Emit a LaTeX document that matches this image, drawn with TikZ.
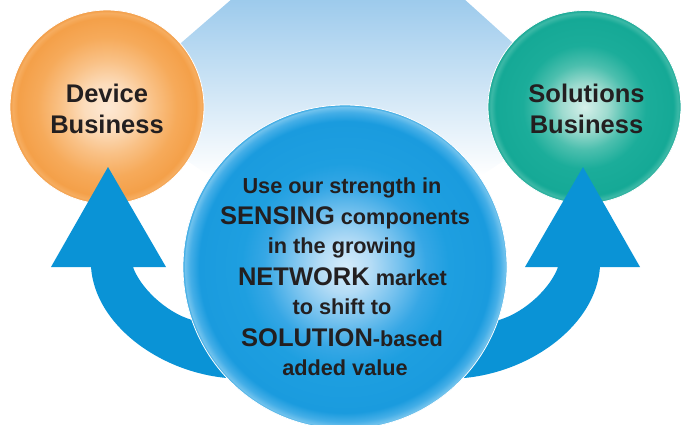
\documentclass[tikz,border=0pt]{standalone}
\usepackage{fontspec}
\setmainfont{Liberation Sans}
\definecolor{bgblue}{HTML}{9CCAEC}
\definecolor{arrowblue}{HTML}{0A93D6}
\definecolor{ink}{HTML}{231F20}
% orange ball
\definecolor{orA}{HTML}{FDE9D5}
\definecolor{orB}{HTML}{FCDCBB}
\definecolor{orC}{HTML}{F9C186}
\definecolor{orD}{HTML}{F6AA5A}
\definecolor{orE}{HTML}{F4A049}
\definecolor{orF}{HTML}{F6AD60}
\definecolor{orG}{HTML}{F29C45}
% teal ball
\definecolor{tlA}{HTML}{D6F0EA}
\definecolor{tlB}{HTML}{9EDBCF}
\definecolor{tlC}{HTML}{4CBFAE}
\definecolor{tlD}{HTML}{1BAD9A}
\definecolor{tlE}{HTML}{15A996}
\definecolor{tlF}{HTML}{3DB9A7}
\definecolor{tlG}{HTML}{16A794}
% blue ball
\definecolor{blA}{HTML}{D6ECFA}
\definecolor{blB}{HTML}{B4DCF6}
\definecolor{blC}{HTML}{74C1EE}
\definecolor{blD}{HTML}{36A7E5}
\definecolor{blE}{HTML}{1E9FE0}
\definecolor{blF}{HTML}{1A9BDE}
\definecolor{blG}{HTML}{44AEE7}
\definecolor{blH}{HTML}{70C2ED}
\definecolor{blI}{HTML}{33A6E2}
% radial shadings: the circle's rim sits at 25bp
\pgfdeclareradialshading{orangeball}{\pgfpoint{0bp}{0bp}}{color(0bp)=(orA); color(6bp)=(orB); color(12bp)=(orC); color(18bp)=(orD); color(23bp)=(orE); color(24.3bp)=(orF); color(25bp)=(orG); color(50bp)=(orG)}
\pgfdeclareradialshading{tealball}{\pgfpoint{0bp}{0bp}}{color(0bp)=(tlA); color(6bp)=(tlB); color(11bp)=(tlC); color(16bp)=(tlD); color(23bp)=(tlE); color(24.3bp)=(tlF); color(25bp)=(tlG); color(50bp)=(tlG)}
\pgfdeclareradialshading{blueball}{\pgfpoint{0bp}{0bp}}{color(0bp)=(blA); color(4bp)=(blB); color(8.5bp)=(blC); color(12.5bp)=(blD); color(16bp)=(blE); color(22.5bp)=(blF); color(23.9bp)=(blG); color(24.7bp)=(blH); color(25bp)=(blI); color(50bp)=(blI)}
% vertical fade: the path spans 25bp (bottom) to 75bp (top)
\pgfdeclareverticalshading{skyfade}{100bp}{color(0bp)=(white); color(42bp)=(white); color(75bp)=(bgblue); color(100bp)=(bgblue)}
\begin{document}
\begin{tikzpicture}[x=1pt,y=-1pt,
  ball/.style={circle, draw=white, line width=0.8pt, inner sep=0pt},
  lbl/.style={anchor=base, inner sep=0pt, text=ink, font=\fontsize{25.5}{30}\selectfont\bfseries},
  txt/.style={anchor=base, inner sep=0pt, text=ink, font=\fontsize{21.7}{26}\selectfont\bfseries},
  arrowshape/.style={fill=arrowblue}]
\useasboundingbox (0,0) rectangle (681,424);
\clip (0,0) rectangle (681,424);

% pale backdrop linking the three balls
\shade[shading=skyfade] (233,-2) -- (463,-2) -- (584,107) -- (345,267) -- (107,107) -- cycle;

% side balls
\node[ball, minimum size=194pt, shading=orangeball] (device) at (107,107) {};
\node[ball, minimum size=193pt, shading=tealball] (solutions) at (584.5,107) {};

% curved arrows rising from the centre ball
\fill[arrowshape] (108,167) -- (166,267) -- (133,267)
  .. controls (140,287) and (165,312) .. (192,320)
  -- (250,330) -- (245,370) -- (227,378)
  .. controls (160,372) and (95,325) .. (91,267)
  -- (51,267) -- cycle;
\fill[arrowshape] (583,167) -- (525,267) -- (558,267)
  .. controls (551,287) and (526,312) .. (499,320)
  -- (441,330) -- (446,370) -- (464,378)
  .. controls (531,372) and (596,325) .. (600,267)
  -- (640,267) -- cycle;

% centre ball
\node[ball, minimum size=324pt, shading=blueball] (core) at (345,267) {};

% labels
\node[lbl] (deviceA) at (107,102) {Device};
\node[lbl] (deviceB) at (107,133) {Business};
\node[lbl] (solA) at (586.5,102) {Solutions};
\node[lbl] (solB) at (586.5,133) {Business};

\node[txt] (l1) at (342,193) {Use our strength in};
\node[txt] (l2) at (345,224.5) {{\fontsize{25.5}{30}\selectfont SENSING} components};
\node[txt] (l3) at (342,253.5) {in the growing};
\node[txt] (l4) at (342.5,285.5) {{\fontsize{25.5}{30}\selectfont NETWORK} market};
\node[txt] (l5) at (342,314.5) {to shift to};
\node[txt] (l6) at (342,346.5) {{\fontsize{25.5}{30}\selectfont SOLUTION}-based};
\node[txt] (l7) at (345,375) {added value};
\end{tikzpicture}
\end{document}
